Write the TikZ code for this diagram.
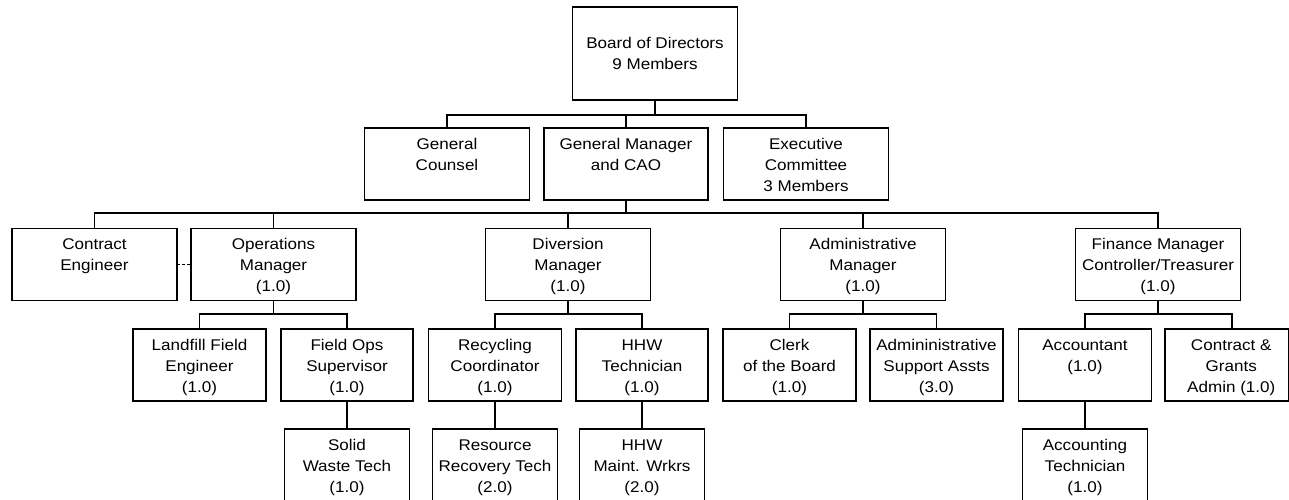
\documentclass[tikz,border=0pt]{standalone}
\usepackage{fontspec}
\setmainfont{Liberation Sans}[FakeStretch=1.1]
\newcommand\fs{\rule{0pt}{12pt}}
\tikzset{
  box/.style={draw, line width=1.1pt, rectangle, inner sep=0pt, outer sep=0pt},
  wide/.style={box, minimum width=165pt, minimum height=72pt},
  mid/.style={box, minimum width=133pt, minimum height=72pt},
  small/.style={box, minimum width=125pt, minimum height=72pt},
  txt/.style={anchor=north, align=center, inner sep=0pt, yshift=-9pt,
    font=\fontsize{15.5}{21}\selectfont},
  conn/.style={line width=1.1pt},
  dashconn/.style={line width=1pt, dash pattern=on 3pt off 2pt}
}
\begin{document}
\begin{tikzpicture}[x=1pt,y=-1pt]
\useasboundingbox (0,0) rectangle (1289,500);
% level 1
\node[box, minimum width=165pt, minimum height=93pt,
  label={[txt,yshift=-20pt]north:{\fs Board of Directors\\9 Members}}] (bod) at (655,53.5) {};
% level 2
\node[wide, label={[txt]north:{\fs General\\Counsel}}] (gc) at (447,164) {};
\node[wide, minimum width=164pt, label={[txt]north:{\fs General Manager\\and CAO}}] (gm) at (626,164) {};
\node[wide, label={[txt]north:{\fs Executive\\Committee\\3 Members}}] (ec) at (806,164) {};
% level 3
\node[wide, label={[txt]north:{\fs Contract\\Engineer}}] (ce) at (94.5,264.5) {};
\node[wide, label={[txt]north:{\fs Operations\\Manager\\(1.0)}}] (ops) at (273.5,264.5) {};
\node[wide, label={[txt]north:{\fs Diversion\\Manager\\(1.0)}}] (div) at (568,264.5) {};
\node[wide, label={[txt]north:{\fs Administrative\\Manager\\(1.0)}}] (adm) at (863,264.5) {};
\node[wide, label={[txt]north:{\fs Finance Manager\\Controller/Treasurer\\(1.0)}}] (fin) at (1158,264.5) {};
% level 4
\node[mid, label={[txt]north:{\fs Landfill Field\\Engineer\\(1.0)}}] (lfe) at (199.5,365) {};
\node[mid, minimum width=132pt, label={[txt]north:{\fs Field Ops\\Supervisor\\(1.0)}}] (fos) at (347,365) {};
\node[mid, label={[txt]north:{\fs Recycling\\Coordinator\\(1.0)}}] (rc) at (495,365) {};
\node[mid, minimum width=132pt, label={[txt]north:{\fs HHW\\Technician\\(1.0)}}] (hhw) at (642,365) {};
\node[mid, label={[txt]north:{\fs Clerk\\of the Board\\(1.0)}}] (clk) at (789.5,365) {};
\node[mid, label={[txt]north:{\fs Admininistrative\\Support Assts\\(3.0)}}] (ass) at (936.5,365) {};
\node[mid, label={[txt]north:{\fs Accountant\\(1.0)}}] (acc) at (1085,365) {};
\node[mid, minimum width=123.5pt, label={[txt,xshift=4.5pt]north:{\fs Contract \&\\Grants\\Admin (1.0)}}] (cga) at (1226.75,365) {};
% level 5
\node[small, label={[txt]north:{\fs Solid\\Waste Tech\\(1.0)}}] (swt) at (347,465) {};
\node[small, label={[txt]north:{\fs Resource\\Recovery Tech\\(2.0)}}] (rrt) at (495,465) {};
\node[small, label={[txt]north:{\fs HHW\\Maint. Wrkrs\\(2.0)}}] (hmw) at (642,465) {};
\node[small, label={[txt]north:{\fs Accounting\\Technician\\(1.0)}}] (act) at (1085,465) {};
% connectors level 1 -> 2
\draw[conn] (bod.south) -- ++(0,15) coordinate (j1);
\draw[conn] (j1) -| (gc.north);
\draw[conn] (j1) -| (gm.north);
\draw[conn] (j1) -| (ec.north);
% level 2 -> 3
\draw[conn] (gm.south) -- ++(0,13) coordinate (j2);
\draw[conn] (j2) -| (ce.north);
\draw[conn] (j2) -| (ops.north);
\draw[conn] (j2) -| (div.north);
\draw[conn] (j2) -| (adm.north);
\draw[conn] (j2) -| (fin.north);
\draw[dashconn] (ce) -- (ops);
% level 3 -> 4
\draw[conn] (ops.south) -- ++(0,13.5) coordinate (j3);
\draw[conn] (j3) -| (lfe.north);
\draw[conn] (j3) -| (fos.north);
\draw[conn] (div.south) -- ++(0,13.5) coordinate (j4);
\draw[conn] (j4) -| (rc.north);
\draw[conn] (j4) -| (hhw.north);
\draw[conn] (adm.south) -- ++(0,13.5) coordinate (j5);
\draw[conn] (j5) -| (clk.north);
\draw[conn] (j5) -| (ass.north);
\draw[conn] (fin.south) -- ++(0,13.5) coordinate (j6);
\draw[conn] (j6) -| (acc.north);
\draw[conn] (j6) -| ([xshift=5.25pt]cga.north);
% level 4 -> 5
\draw[conn] (fos) -- (swt);
\draw[conn] (rc) -- (rrt);
\draw[conn] (hhw) -- (hmw);
\draw[conn] (acc) -- (act);
\end{tikzpicture}
\end{document}
